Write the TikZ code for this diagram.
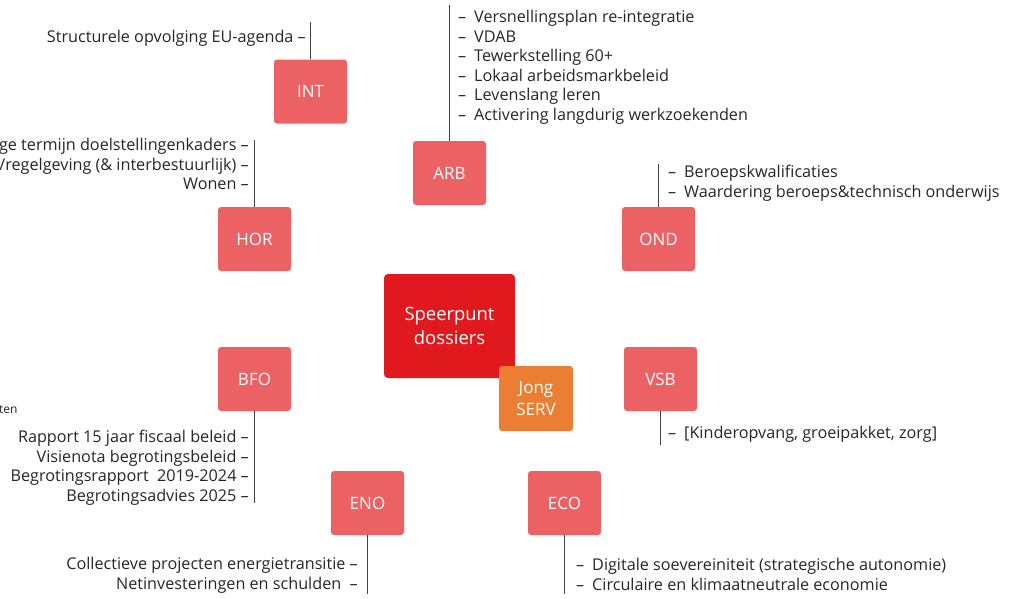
\documentclass[tikz,border=0pt]{standalone}
\usepackage{fontspec}
\setmainfont{Open Sans}
\definecolor{boxred}{HTML}{EC6264}
\definecolor{mainred}{HTML}{E0191E}
\definecolor{jongorange}{HTML}{EC7E34}
\definecolor{txt}{HTML}{262626}
\definecolor{linecol}{HTML}{404040}
\begin{document}
\begin{tikzpicture}[x=1pt,y=-1pt,
  theme/.style={rectangle, rounded corners=3pt, fill=boxred, text=white,
    minimum width=73pt, minimum height=64pt, inner sep=0pt,
    font=\fontsize{17}{20}\selectfont},
  itemtext/.style={text=txt, inner sep=0pt, font=\fontsize{16.2}{19.6}\selectfont},
  leftlist/.style={itemtext, anchor=north west, align=left},
  rightlist/.style={itemtext, anchor=north east, align=right},
  stem/.style={draw=linecol, line width=1pt}]
\useasboundingbox (0,0) rectangle (1014,598);
\newcommand{\li}[1]{\makebox[16pt][l]{–}#1}

% central
\node[rectangle, rounded corners=4pt, fill=mainred, text=white, minimum width=131pt,
  minimum height=104pt, inner sep=0pt, align=center,
  font=\fontsize{18.4}{24}\selectfont] (main) at (449.5,326) {Speerpunt\\dossiers};
\node[rectangle, rounded corners=3pt, fill=jongorange, text=white, minimum width=74pt,
  minimum height=65pt, inner sep=0pt, align=center,
  font=\fontsize{17}{22}\selectfont] (jong) at (536,398.5) {Jong\\SERV};

% themes
\node[theme] (int) at (310.5,91.5) {INT};
\node[theme] (arb) at (449.5,173) {ARB};
\node[theme] (hor) at (254.5,239) {HOR};
\node[theme] (ond) at (658.5,239) {OND};
\node[theme] (bfo) at (254.5,379) {BFO};
\node[theme] (vsb) at (660.5,379) {VSB};
\node[theme] (eno) at (367.5,503) {ENO};
\node[theme] (eco) at (564.5,503) {ECO};

% stem end points
\coordinate (intE) at (310.5,22);
\coordinate (arbE) at (449.5,5);
\coordinate (horE) at (254.5,140);
\coordinate (ondE) at (658.5,164);
\coordinate (bfoE) at (254.5,503);
\coordinate (vsbE) at (660.5,445);
\coordinate (enoE) at (367.5,594);
\coordinate (ecoE) at (564.5,594);

\draw[stem] (int.north) -- (intE);
\draw[stem] (arb.north) -- (arbE);
\draw[stem] (hor.north) -- (horE);
\draw[stem] (ond.north) -- (ondE);
\draw[stem] (bfo.south) -- (bfoE);
\draw[stem] (vsb.south) -- (vsbE);
\draw[stem] (eno.south) -- (enoE);
\draw[stem] (eco.south) -- (ecoE);

% lists
\node[rightlist] (intL) at (306,30) {Structurele opvolging EU-agenda –};
\node[leftlist] (arbL) at (458,10) {\li{Versnellingsplan re-integratie}\\\li{VDAB}\\\li{Tewerkstelling 60+}\\\li{Lokaal arbeidsmarkbeleid}\\\li{Levenslang leren}\\\li{Activering langdurig werkzoekenden}};
\node[rightlist] (horL) at (249,138) {ge termijn doelstellingenkaders –\\/regelgeving (\& interbestuurlijk) –\\Wonen –};
\node[leftlist] (ondL) at (668,165) {\li{Beroepskwalificaties}\\\li{Waardering beroeps\&technisch onderwijs}};
\node[rightlist] (bfoL) at (249,430) {Rapport 15 jaar fiscaal beleid –\\Visienota begrotingsbeleid –\\Begrotingsrapport\ \ 2019-2024 –\\Begrotingsadvies 2025 –};
\node[itemtext, anchor=west, font=\fontsize{12}{14}\selectfont] (cut) at (-1,410) {ten};
\node[leftlist] (vsbL) at (668,426) {\li{[Kinderopvang, groeipakket, zorg]}};
\node[rightlist] (enoL) at (358,557) {Collectieve projecten energietransitie –\\Netinvesteringen en schulden\ \ –};
\node[leftlist] (ecoL) at (576,558) {\li{Digitale soevereiniteit (strategische autonomie)}\\\li{Circulaire en klimaatneutrale economie}};
\end{tikzpicture}
\end{document}
